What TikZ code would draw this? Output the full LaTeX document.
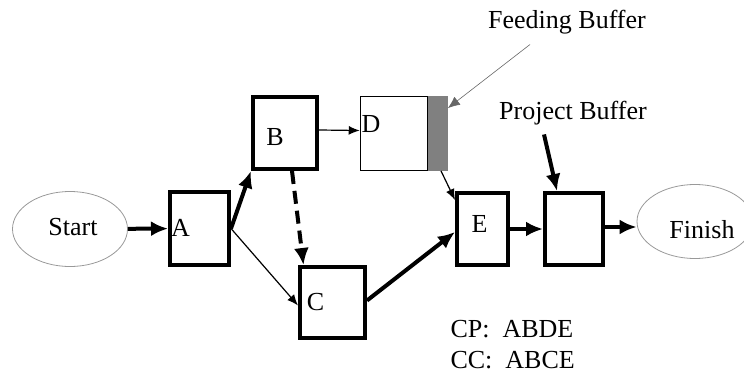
\documentclass[tikz,border=0pt]{standalone}
\usepackage{fontspec}
\setmainfont{Liberation Serif}
\usepackage{tikz}
\usetikzlibrary{positioning,calc,shapes,arrows.meta}
\tikzstyle{task}= [rectangle, draw, line width=4pt, inner sep=0pt]
\tikzstyle{term}= [ellipse, draw=gray!80, line width=0.8pt, inner sep=0pt]
\tikzstyle{big}= [line width=4pt, -{Latex[length=17pt,width=15pt]}]
\tikzstyle{small}= [line width=1.2pt, -{Latex[length=11pt,width=9pt]}]

\begin{document}
\begin{tikzpicture}[x=1pt, y=-1pt, every node/.style={font=\fontsize{26}{30}\selectfont}]
						\useasboundingbox (0,0) rectangle (744,375);
						\node[term, minimum width=115pt, minimum height=75pt] (start) at (70, 229) {};
						\node[term, minimum width=116pt, minimum height=74pt] (finish) at (695, 221.5) {};
						\node[task, minimum width=59pt, minimum height=73pt] (a) at (199.5, 228.5) {};
						\node[task, minimum width=64pt, minimum height=72pt] (b) at (285, 133) {};
						\node[task, minimum width=65pt, minimum height=71pt] (c) at (332.5, 302.5) {};
						\node[rectangle, draw, line width=1.5pt, minimum width=67pt, minimum height=74pt] (d) at (394, 133.5) {};
						\node[rectangle, draw=gray, line width=0.8pt, fill=gray, minimum width=19pt, minimum height=74pt] (fb) at (438, 133.5) {};
						\node[task, minimum width=51pt, minimum height=72pt] (e) at (482.5, 229) {};
						\node[task, minimum width=58pt, minimum height=72pt] (pb) at (574, 229) {};
						\node (tstart) at (73, 227) {Start};
						\node (tfinish) at (702, 230) {Finish};
						\node (ta) at (180.5, 228) {A};
						\node (tb) at (275, 137.5) {B};
						\node (tc) at (315.5, 302) {C};
						\node (td) at (371, 124.5) {D};
						\node (te) at (479.5, 224) {E};
						\node (tfeed) at (567, 22) {Feeding Buffer};
						\node (tproj) at (573, 113) {Project Buffer};
						\node[anchor=west] (tcp) at (447, 329) {CP:\ \ ABDE};
						\node[anchor=west] (tcc) at (447, 360) {CC:\ \ ABCE};
						\draw[big](start) -- (a);
						\draw[big](a.east) -- (b.south west);
						\draw[small](a.east) -- ([yshift=-3pt]c.west);
						\draw[big, dash pattern=on 13pt off 7pt]([xshift=7pt]b.south) -- ([xshift=-29pt]c.north);
						\draw[small]([yshift=3pt]b.east) -- ([yshift=3pt]d.west);
						\draw[small]([xshift=3pt]fb.south) -- ([yshift=29pt]e.west);
						\draw[big]([yshift=2pt]c.east) -- ([yshift=-3pt]e.west);
						\draw[big](e) -- (pb);
						\draw[big]([yshift=2pt]pb.east) -- ([yshift=2pt]pb.east -| finish.west);
						\draw[big]([xshift=-29pt, yshift=-6pt]tproj.south) -- ([xshift=-17pt]pb.north);
						\draw[line width=0.6pt, draw=gray!80!black, -{Latex[length=12pt,width=10pt]}]([xshift=-37pt, yshift=-7pt]tfeed.south) -- ([yshift=-12pt]fb.north east);
					\end{tikzpicture}
\end{document}
